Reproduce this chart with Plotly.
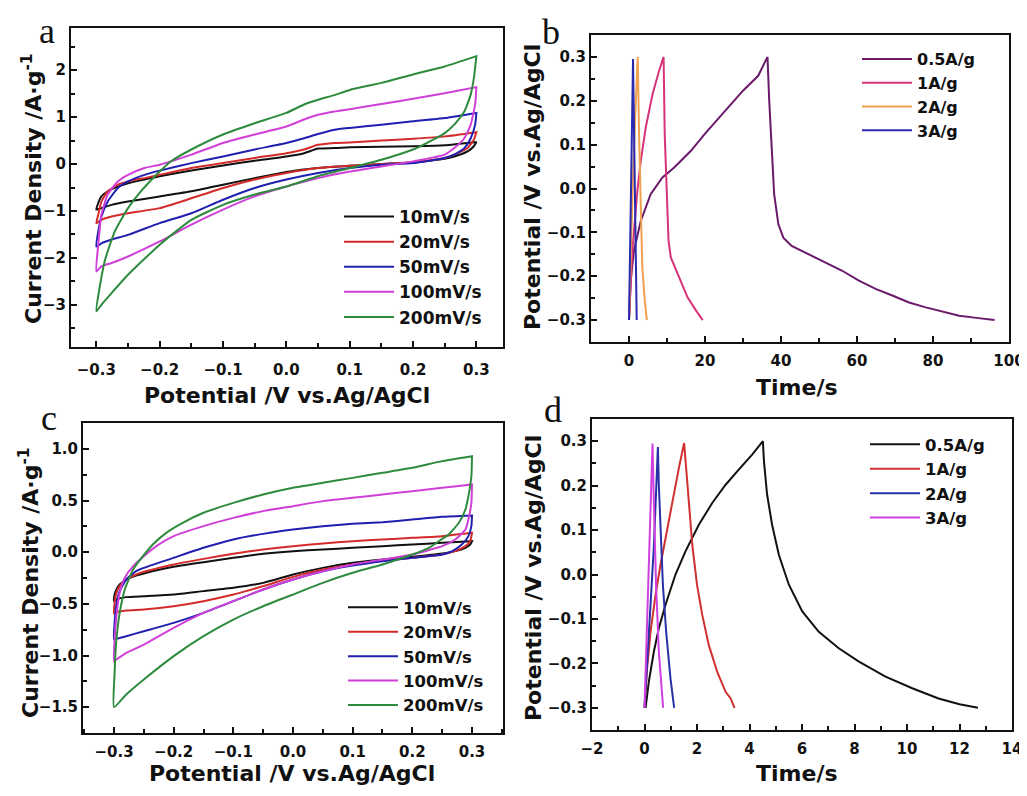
import plotly.graph_objects as go

# page is 1027x796; the browser body has an 8px margin, so the figure is drawn 8px in
PAGE_W, PAGE_H, BODY = 1027, 796, 8
W, H = PAGE_W - BODY, PAGE_H - 2 * BODY

# ---------------- Panel a : CV curves ----------------
a_labels = ["10mV/s", "20mV/s", "50mV/s", "100mV/s", "200mV/s"]
a_colors = ["#111111", "#d42a2a", "#2020b0", "#d040d8", "#2e8b3e"]

a_fx_20 = [-0.3, -0.297, -0.292, -0.282, -0.266, -0.25, -0.224, -0.2, -0.15, -0.1, -0.05, 0, 0.028, 0.05, 0.076, 0.1, 0.15, 0.2, 0.25, 0.3]
a_rx_18 = [0.3, 0.296, 0.286, 0.265, 0.25, 0.2, 0.15, 0.1, 0.05, 0, -0.05, -0.1, -0.15, -0.2, -0.25, -0.276, -0.292, -0.3]

a10_fy = [-0.97, -0.83, -0.69, -0.58, -0.48, -0.41, -0.33, -0.26, -0.14, -0.03, 0.07, 0.16, 0.23, 0.33, 0.34, 0.36, 0.37, 0.38, 0.40, 0.47]
a10_ry = [0.47, 0.38, 0.27, 0.16, 0.11, 0.04, 0.0, -0.036, -0.085, -0.17, -0.30, -0.44, -0.58, -0.69, -0.80, -0.87, -0.94, -0.97]

a20_fy = [-1.26, -1.08, -0.80, -0.58, -0.44, -0.37, -0.30, -0.23, -0.085, 0.02, 0.13, 0.23, 0.31, 0.41, 0.45, 0.46, 0.50, 0.54, 0.59, 0.68]
a20_ry = [0.68, 0.52, 0.34, 0.20, 0.13, 0.04, 0.0, -0.036, -0.085, -0.19, -0.33, -0.51, -0.73, -0.94, -1.05, -1.12, -1.19, -1.26]

a50_fy = [-1.76, -1.44, -1.12, -0.80, -0.51, -0.37, -0.23, -0.14, 0.02, 0.16, 0.31, 0.45, 0.55, 0.64, 0.73, 0.77, 0.84, 0.91, 0.98, 1.09]
a50_rx = [0.3, 0.298, 0.291, 0.281, 0.265, 0.25, 0.2, 0.15, 0.1, 0.05, 0, -0.05, -0.1, -0.15, -0.2, -0.25, -0.276, -0.292, -0.3]
a50_ry = [1.09, 0.84, 0.55, 0.34, 0.20, 0.13, 0.02, -0.014, -0.085, -0.19, -0.33, -0.51, -0.76, -1.05, -1.26, -1.51, -1.61, -1.69, -1.76]

a100_fx = [-0.3, -0.297, -0.292, -0.282, -0.266, -0.25, -0.224, -0.2, -0.182, -0.15, -0.1, -0.05, 0, 0.028, 0.05, 0.076, 0.1, 0.15, 0.2, 0.25, 0.3]
a100_fy = [-2.29, -1.72, -1.08, -0.65, -0.37, -0.23, -0.085, -0.014, 0.057, 0.20, 0.45, 0.63, 0.80, 0.95, 1.05, 1.12, 1.17, 1.28, 1.39, 1.51, 1.64]
a100_ry = [1.64, 1.27, 0.84, 0.55, 0.34, 0.20, 0.057, -0.05, -0.16, -0.30, -0.48, -0.69, -0.97, -1.29, -1.65, -1.97, -2.11, -2.18, -2.29]

a200_fx = [-0.3, -0.287, -0.271, -0.25, -0.234, -0.2, -0.182, -0.15, -0.1, -0.05, 0, 0.028, 0.05, 0.076, 0.1, 0.15, 0.2, 0.25, 0.3]
a200_fy = [-3.14, -2.08, -1.44, -0.94, -0.65, -0.16, 0.06, 0.31, 0.63, 0.87, 1.09, 1.27, 1.37, 1.47, 1.58, 1.73, 1.91, 2.08, 2.30]
a200_rx = [0.3, 0.296, 0.291, 0.281, 0.265, 0.25, 0.212, 0.2, 0.15, 0.1, 0.05, 0, -0.05, -0.1, -0.15, -0.2, -0.25, -0.276, -0.292, -0.3]
a200_ry = [2.30, 1.83, 1.48, 1.12, 0.84, 0.66, 0.38, 0.31, 0.09, -0.085, -0.26, -0.48, -0.65, -0.87, -1.19, -1.72, -2.36, -2.75, -3.0, -3.14]

a_x = [a_fx_20 + a_rx_18, a_fx_20 + a_rx_18, a_fx_20 + a50_rx, a100_fx + a50_rx, a200_fx + a200_rx]
a_y = [a10_fy + a10_ry, a20_fy + a20_ry, a50_fy + a50_ry, a100_fy + a100_ry, a200_fy + a200_ry]

# ---------------- Panel b : GCD ----------------
b_labels = ["0.5A/g", "1A/g", "2A/g", "3A/g"]
b_colors = ["#6b1a6b", "#d6337a", "#f0a050", "#2a2ab0"]
b05_x = [0, 0.44, 1.3, 3.1, 5.7, 8.8, 11.9, 16.3, 19.9, 25.2, 30.0, 34.0, 36.45, 36.9, 37.5, 38.2, 39.3, 40.6, 42.8, 47.2, 51.6, 56.0, 60.5, 64.9, 69.3, 73.7, 78.1, 82.5, 86.9, 91.4, 96.2]
b05_y = [-0.30, -0.21, -0.142, -0.074, -0.013, 0.025, 0.048, 0.086, 0.124, 0.177, 0.223, 0.257, 0.30, 0.20, 0.086, -0.013, -0.081, -0.112, -0.131, -0.15, -0.168, -0.187, -0.21, -0.229, -0.244, -0.26, -0.271, -0.281, -0.29, -0.295, -0.30]
b1_x = [0, 0.88, 2.2, 3.1, 4.4, 6.2, 7.9, 9.1, 9.4, 10.0, 10.4, 11.0, 12.8, 15.4, 17.7, 19.4]
b1_y = [-0.30, -0.142, -0.005, 0.063, 0.139, 0.215, 0.268, 0.30, 0.124, -0.028, -0.119, -0.157, -0.195, -0.248, -0.279, -0.30]
b2_x = [0, 0.5, 1.1, 1.7, 2.3, 2.65, 3.1, 3.5, 4.15, 4.7]
b2_y = [-0.30, -0.12, 0.04, 0.18, 0.30, 0.124, -0.081, -0.18, -0.256, -0.30]
b3_x = [0, 0.4, 0.8, 1.06, 1.3, 1.65, 2.03]
b3_y = [-0.30, -0.05, 0.17, 0.295, 0.15, -0.08, -0.30]
b_x = [b05_x, b1_x, b2_x, b3_x]
b_y = [b05_y, b1_y, b2_y, b3_y]

# ---------------- Panel c : CV curves ----------------
c_labels = a_labels
c_colors = ["#111111", "#d42a2a", "#2020b0", "#d040d8", "#2e8b3e"]
c_fx_18 = [-0.3, -0.299, -0.296, -0.2905, -0.2795, -0.263, -0.25, -0.2, -0.15, -0.1, -0.05, 0, 0.05, 0.1, 0.15, 0.2, 0.25, 0.3]
c_rx_18 = [0.3, 0.297, 0.289, 0.272, 0.25, 0.2, 0.15, 0.1, 0.05, 0, -0.05, -0.1, -0.15, -0.2, -0.25, -0.2795, -0.296, -0.3]

c10_fy = [-0.474, -0.410, -0.361, -0.313, -0.265, -0.226, -0.206, -0.142, -0.097, -0.055, -0.016, 0.01, 0.026, 0.042, 0.058, 0.074, 0.090, 0.106]
c10_ry = [0.106, 0.074, 0.042, 0.01, -0.013, -0.045, -0.071, -0.103, -0.152, -0.216, -0.297, -0.345, -0.377, -0.410, -0.426, -0.435, -0.458, -0.474]
c20_fy = [-0.594, -0.490, -0.394, -0.329, -0.265, -0.216, -0.190, -0.119, -0.065, -0.016, 0.026, 0.058, 0.084, 0.106, 0.123, 0.139, 0.155, 0.187]
c20_ry = [0.187, 0.106, 0.058, 0.01, -0.023, -0.055, -0.081, -0.119, -0.168, -0.239, -0.329, -0.410, -0.474, -0.523, -0.555, -0.565, -0.581, -0.594]
c50_fy = [-0.845, -0.684, -0.506, -0.377, -0.265, -0.184, -0.152, -0.055, 0.042, 0.123, 0.177, 0.219, 0.252, 0.274, 0.290, 0.316, 0.342, 0.355]
c50_rx = [0.3, 0.299, 0.294, 0.283, 0.267, 0.25, 0.2, 0.15, 0.1, 0.05, 0, -0.05, -0.1, -0.15, -0.2, -0.25, -0.2795, -0.296, -0.3]
c50_ry = [0.355, 0.252, 0.155, 0.074, 0.01, -0.023, -0.055, -0.087, -0.129, -0.184, -0.265, -0.361, -0.474, -0.587, -0.684, -0.765, -0.813, -0.839, -0.845]
c100_fx = [-0.3, -0.299, -0.296, -0.2905, -0.282, -0.268, -0.25, -0.229, -0.2, -0.15, -0.1, -0.05, 0, 0.05, 0.1, 0.15, 0.2, 0.25, 0.3]
c100_fy = [-1.055, -0.845, -0.619, -0.394, -0.248, -0.135, -0.039, 0.058, 0.155, 0.252, 0.332, 0.397, 0.445, 0.494, 0.526, 0.558, 0.590, 0.623, 0.655]
c100_rx = [0.3, 0.299, 0.294, 0.289, 0.272, 0.25, 0.2, 0.15, 0.1, 0.05, 0, -0.05, -0.1, -0.15, -0.2, -0.25, -0.2795, -0.296, -0.3]
c100_ry = [0.655, 0.477, 0.316, 0.219, 0.123, 0.058, -0.023, -0.071, -0.119, -0.184, -0.265, -0.361, -0.474, -0.587, -0.732, -0.894, -0.974, -1.039, -1.055]
c200_fx = [-0.3, -0.299, -0.296, -0.2905, -0.282, -0.268, -0.2515, -0.235, -0.2125, -0.185, -0.15, -0.1, -0.05, 0, 0.05, 0.1, 0.15, 0.2, 0.25, 0.3]
c200_fy = [-1.50, -1.17, -0.845, -0.587, -0.361, -0.168, -0.039, 0.074, 0.187, 0.284, 0.381, 0.477, 0.558, 0.623, 0.671, 0.719, 0.768, 0.816, 0.881, 0.929]
c200_rx = [0.3, 0.299, 0.294, 0.289, 0.278, 0.261, 0.25, 0.228, 0.2, 0.15, 0.1, 0.05, 0, -0.05, -0.1, -0.15, -0.2, -0.25, -0.2795, -0.3]
c200_ry = [0.929, 0.735, 0.542, 0.413, 0.284, 0.171, 0.129, 0.042, -0.023, -0.119, -0.2, -0.297, -0.41, -0.523, -0.652, -0.813, -1.006, -1.232, -1.377, -1.50]

c_x = [c_fx_18 + c_rx_18, c_fx_18 + c_rx_18, c_fx_18 + c50_rx, c100_fx + c100_rx, c200_fx + c200_rx]
c_y = [c10_fy + c10_ry, c20_fy + c20_ry, c50_fy + c50_ry, c100_fy + c100_ry, c200_fy + c200_ry]

# ---------------- Panel d : GCD ----------------
d_labels = ["0.5A/g", "1A/g", "2A/g", "3A/g"]
d_colors = ["#111111", "#d03030", "#2830a8", "#d040e0"]
d05_x = [0.04, 0.165, 0.356, 0.546, 0.8, 1.18, 1.56, 2.07, 2.58, 3.09, 3.59, 4.10, 4.51, 4.55, 4.67, 4.86, 5.12, 5.50, 6.01, 6.64, 7.40, 8.17, 9.18, 10.2, 11.2, 12.0, 12.7]
d05_y = [-0.30, -0.241, -0.174, -0.121, -0.068, 0.0, 0.052, 0.112, 0.161, 0.202, 0.236, 0.27, 0.30, 0.255, 0.18, 0.112, 0.044, -0.023, -0.083, -0.129, -0.166, -0.196, -0.23, -0.256, -0.279, -0.292, -0.30]
d1_x = [0, 0.10, 0.23, 0.42, 0.61, 0.8, 1.05, 1.31, 1.51, 1.56, 1.69, 1.82, 2.0, 2.2, 2.45, 2.77, 3.09, 3.28, 3.43]
d1_y = [-0.30, -0.211, -0.129, -0.046, 0.022, 0.082, 0.165, 0.24, 0.296, 0.262, 0.165, 0.067, -0.023, -0.091, -0.159, -0.219, -0.264, -0.279, -0.30]
d2_x = [0, 0.10, 0.23, 0.36, 0.44, 0.51, 0.546, 0.61, 0.70, 0.825, 0.99, 1.13]
d2_y = [-0.30, -0.189, -0.068, 0.067, 0.18, 0.287, 0.202, 0.089, -0.023, -0.129, -0.234, -0.30]
d3_x = [0, 0.063, 0.14, 0.216, 0.305, 0.356, 0.44, 0.546, 0.71]
d3_y = [-0.30, -0.174, -0.008, 0.142, 0.295, 0.165, -0.023, -0.174, -0.30]
d_x = [d05_x, d1_x, d2_x, d3_x]
d_y = [d05_y, d1_y, d2_y, d3_y]

# ---------------- figure ----------------
FONT = "DejaVu Sans, Verdana, sans-serif"
fig = go.Figure()

def px_x(p):
    # page pixel -> paper fraction
    return (p - BODY) / W

def px_y(p):
    return 1 - (p - BODY) / H

panels = [
    ("", a_labels, a_colors, a_x, a_y, "legend", "spline"),
    ("2", b_labels, b_colors, b_x, b_y, "legend2", "linear"),
    ("3", c_labels, c_colors, c_x, c_y, "legend3", "spline"),
    ("4", d_labels, d_colors, d_x, d_y, "legend4", "linear"),
]
for suf, labels, colors, xs, ys, leg, shape in panels:
    for lab, col, xx, yy in zip(labels, colors, xs, ys):
        line = dict(color=col, width=2, shape=shape)
        if shape == "spline":
            line["smoothing"] = 0.5
        fig.add_trace(go.Scatter(
            x=xx, y=yy, mode="lines", name=lab, line=line,
            xaxis="x" + suf, yaxis="y" + suf, legend=leg,
        ))

tickfont = dict(family=FONT, size=15, color="#111111", weight="bold")

def axis(domain, anchor, rng, dtick, minor_dtick, fmt=None, standoff=None):
    d = dict(
        domain=domain, anchor=anchor, range=rng, dtick=dtick, tick0=0,
        automargin=False, showgrid=False, zeroline=False, showline=True,
        linecolor="#111111", linewidth=2, mirror=True, ticks="inside",
        ticklen=6, tickwidth=1.5, tickcolor="#111111", tickfont=tickfont,
        ticklabeloverflow="allow",
        minor=dict(dtick=minor_dtick, tick0=0, ticks="inside", ticklen=4,
                   tickwidth=1.5, tickcolor="#111111", showgrid=False),
    )
    if fmt:
        d["tickformat"] = fmt
    if standoff is not None:
        d["ticklabelstandoff"] = standoff
    return d

dom = {
    "a": ([px_x(71), px_x(503)], [px_y(347), px_y(28)]),
    "b": ([px_x(591), px_x(1009)], [px_y(342), px_y(35)]),
    "c": ([px_x(83), px_x(503)], [px_y(733), px_y(423)]),
    "d": ([px_x(592), px_x(1012)], [px_y(730), px_y(419)]),
}

def legend_at(x_text, y_top, size):
    return dict(
        x=px_x(x_text - 60), y=px_y(y_top),
        font=dict(family=FONT, size=size, color="#111111", weight="bold"),
        bgcolor="rgba(0,0,0,0)", borderwidth=0, xanchor="left", yanchor="top",
        itemwidth=50, tracegroupgap=0,
    )

fig.update_layout(
    template="none",
    width=W, height=H, margin=dict(l=0, r=0, t=0, b=0, autoexpand=False),
    paper_bgcolor="white", plot_bgcolor="white", showlegend=True,
    xaxis=axis(dom["a"][0], "y", [-0.34, 0.342], 0.1, 0.05, fmt=".1f", standoff=8),
    yaxis=axis(dom["a"][1], "x", [-3.9, 2.9], 1, 0.5),
    xaxis2=axis(dom["b"][0], "y2", [-10, 100], 20, 10, standoff=4),
    yaxis2=axis(dom["b"][1], "x2", [-0.35, 0.35], 0.1, 0.05, fmt=".1f"),
    xaxis3=axis(dom["c"][0], "y3", [-0.352, 0.352], 0.1, 0.05, fmt=".1f", standoff=4),
    yaxis3=axis(dom["c"][1], "x3", [-1.75, 1.25], 0.5, 0.25, fmt=".1f"),
    xaxis4=axis(dom["d"][0], "y4", [-2, 14], 2, 1, standoff=4),
    yaxis4=axis(dom["d"][1], "x4", [-0.35, 0.35], 0.1, 0.05, fmt=".1f"),
    legend=legend_at(399, 199, 17),
    legend2=legend_at(917, 42, 16),
    legend3=legend_at(403, 590, 16.5),
    legend4=legend_at(925, 427, 16.5),
)

title_font = dict(family=FONT, size=22, color="#111111", weight="bold")
letter_font = dict(family="Liberation Serif, Times New Roman, serif", size=36, color="#111111")

annos = [
    dict(text="Potential /V vs.Ag/AgCl", x=px_x(287), y=px_y(395), textangle=0, font=title_font),
    dict(text="Time/s", x=px_x(797), y=px_y(387), textangle=0, font=title_font),
    dict(text="Potential /V vs.Ag/AgCl", x=px_x(292), y=px_y(773), textangle=0, font=title_font),
    dict(text="Time/s", x=px_x(797), y=px_y(773), textangle=0, font=title_font),
    dict(text="Current Density /A·g<sup>-1</sup>", x=px_x(32), y=px_y(189), textangle=-90, font=title_font),
    dict(text="Potential /V vs.Ag/AgCl", x=px_x(533), y=px_y(187), textangle=-90, font=title_font),
    dict(text="Current Density /A·g<sup>-1</sup>", x=px_x(29), y=px_y(583), textangle=-90, font=title_font),
    dict(text="Potential /V vs.Ag/AgCl", x=px_x(533), y=px_y(578), textangle=-90, font=title_font),
    dict(text="a", x=px_x(47), y=px_y(31), textangle=0, font=letter_font),
    dict(text="b", x=px_x(551), y=px_y(32), textangle=0, font=letter_font),
    dict(text="c", x=px_x(49), y=px_y(418), textangle=0, font=letter_font),
    dict(text="d", x=px_x(553), y=px_y(410), textangle=0, font=letter_font),
]
for a in annos:
    fig.add_annotation(xref="paper", yref="paper", showarrow=False,
                       xanchor="center", yanchor="middle", **a)

fig.write_html("out.html")
